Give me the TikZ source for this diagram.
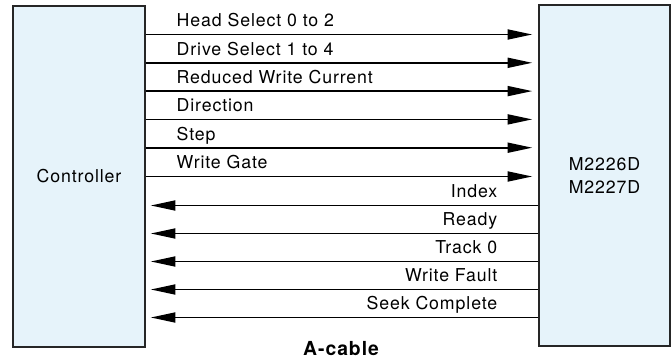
\documentclass[tikz,border=0pt]{standalone}
\usepackage{fontspec}
\setmainfont{TeX Gyre Heros}[LetterSpace=5]
\usetikzlibrary{arrows.meta}

\definecolor{boxblue}{RGB}{230,243,250}

\begin{document}
\begin{tikzpicture}[x=0.75pt, y=-0.75pt,
    font=\fontsize{13.3}{16}\selectfont,
    unit/.style={draw=black!85, line width=1.1pt, fill=boxblue, inner sep=0pt},
    outsig/.style={line width=1.3pt, -{Triangle[length=18.5pt, width=7.5pt]}, shorten >=4.5pt},
    insig/.style={line width=1.3pt, -{Triangle[length=18.5pt, width=7.5pt]}, shorten >=3.75pt}]
      \useasboundingbox (0,0) rectangle (672,360);

      \node[unit, minimum width=99pt, minimum height=256pt] (ctrl) at (79,176.5) {Controller};
      \node[unit, minimum width=98.25pt, minimum height=256pt, align=center] (drv) at (604.5,175.5)
        {M2226D\\[1pt]M2227D};

      % controller to drive
      \draw[outsig] (ctrl.east |- 0,34.5) -- (drv.west |- 0,34.5);
      \draw[outsig] (ctrl.east |- 0,62.8) -- (drv.west |- 0,62.8);
      \draw[outsig] (ctrl.east |- 0,91.1) -- (drv.west |- 0,91.1);
      \draw[outsig] (ctrl.east |- 0,119.4) -- (drv.west |- 0,119.4);
      \draw[outsig] (ctrl.east |- 0,147.7) -- (drv.west |- 0,147.7);
      \draw[outsig] (ctrl.east |- 0,176.5) -- (drv.west |- 0,176.5);
      \node[anchor=base west] (hsel) at (172,27) {Head Select 0 to 2};
      \node[anchor=base west] (dsel) at (172,55.3) {Drive Select 1 to 4};
      \node[anchor=base west] (rwc) at (172,83.6) {Reduced Write Current};
      \node[anchor=base west] (dir) at (172,111.9) {Direction};
      \node[anchor=base west] (stp) at (172,140.2) {Step};
      \node[anchor=base west] (wgate) at (172,169) {Write Gate};

      % drive to controller
      \draw[insig] (drv.west |- 0,205.5) -- (ctrl.east |- 0,205.5);
      \draw[insig] (drv.west |- 0,233.5) -- (ctrl.east |- 0,233.5);
      \draw[insig] (drv.west |- 0,261.5) -- (ctrl.east |- 0,261.5);
      \draw[insig] (drv.west |- 0,289.5) -- (ctrl.east |- 0,289.5);
      \draw[insig] (drv.west |- 0,317.5) -- (ctrl.east |- 0,317.5);
      \node[anchor=base east] (idx) at (502,197.5) {Index};
      \node[anchor=base east] (rdy) at (502,225.5) {Ready};
      \node[anchor=base east] (trk) at (502,253.5) {Track 0};
      \node[anchor=base east] (wflt) at (502,281.5) {Write Fault};
      \node[anchor=base east] (seek) at (502,309.5) {Seek Complete};

      \node[font=\fontsize{14.5}{17}\selectfont\bfseries] (cable) at (341,349) {A-cable};

    \end{tikzpicture}
\end{document}
